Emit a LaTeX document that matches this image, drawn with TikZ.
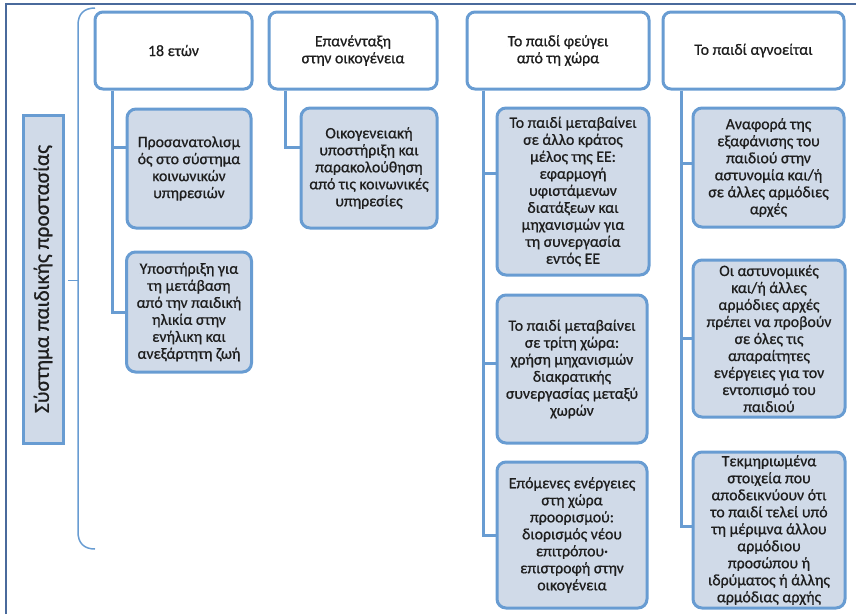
\documentclass[tikz,border=0pt]{standalone}
\usepackage{fontspec}
\setmainfont{Carlito}[FakeBold=0.8]
\definecolor{frame}{RGB}{74,106,156}
\definecolor{bord}{RGB}{104,156,210}
\definecolor{cfill}{RGB}{208,218,232}
\definecolor{txt}{RGB}{30,30,30}
\tikzset{
  hdr/.style={draw=bord, line width=3pt, fill=white, rounded corners=8pt, align=center, text=txt, font=\fontsize{15.8}{17}\selectfont, inner sep=2pt},
  child/.style={draw=bord, line width=3pt, fill=cfill, rounded corners=9pt, align=center, text=txt, font=\fontsize{15.8}{17}\selectfont, inner sep=2pt},
  conn/.style={draw=bord, line width=3pt},
  lbl/.style={draw=bord, line width=3pt, fill=cfill, rotate=90, text=txt, font=\fontsize{21.5}{23}\selectfont, inner sep=0pt},
}
\begin{document}
\begin{tikzpicture}[x=1pt,y=-1pt]
\useasboundingbox (0,0) rectangle (856,614);
% frame
\draw[frame, line width=2.5pt] (6,614) -- (6,4) -- (856,4);
% brace
\draw[bord, line width=1.5pt] (95,8) .. controls (84,8) and (78,14) .. (78,25) -- (78,532) .. controls (78,543) and (84,549) .. (95,549);
\draw[bord, line width=1pt] (68,280) -- (78,280);
% label
\node[lbl, minimum width=328pt, minimum height=40pt] (lab) at (43,279) {Σύστημα παιδικής προστασίας};
% headers
\node[hdr, minimum width=157pt, minimum height=77pt] (h1) at (173.5,50.5) {18 ετών};
\node[hdr, minimum width=168pt, minimum height=77pt] (h2) at (353,50.5) {Επανένταξη\\στην οικογένεια};
\node[hdr, minimum width=182pt, minimum height=77pt] (h3) at (558,50.5) {Το παιδί φεύγει\\από τη χώρα};
\node[hdr, minimum width=181pt, minimum height=77pt] (h4) at (753.5,50.5) {Το παιδί αγνοείται};
% axis coordinates
\coordinate (v1) at (112,0);
\coordinate (v2) at (285,0);
\coordinate (v3) at (483,0);
\coordinate (v4) at (681,0);
% connector targets
\coordinate (k11) at (127,147);
\coordinate (k12) at (126,312);
\coordinate (k21) at (301,147);
\coordinate (k31) at (497,173);
\coordinate (k32) at (497,363);
\coordinate (k33) at (497,535);
\coordinate (k41) at (693,163);
\coordinate (k42) at (693,338.5);
\coordinate (k43) at (693,526);
\draw[conn] (h1.south -| v1) |- (k11);
\draw[conn] (h1.south -| v1) |- (k12);
\draw[conn] (h2.south -| v2) |- (k21);
\draw[conn] (h3.south -| v3) |- (k31);
\draw[conn] (h3.south -| v3) |- (k32);
\draw[conn] (h3.south -| v3) |- (k33);
\draw[conn] (h4.south -| v4) |- (k41);
\draw[conn] (h4.south -| v4) |- (k42);
\draw[conn] (h4.south -| v4) |- (k43);
% children
\node[child, minimum width=124pt, minimum height=119pt] (c11) at (189,168.5) {Προσανατολισμ\\ός στο σύστημα\\κοινωνικών\\υπηρεσιών};
\node[child, minimum width=125pt, minimum height=120pt] (c12) at (189,312) {Υποστήριξη για\\τη μετάβαση\\από την παιδική\\ηλικία στην\\ενήλικη και\\ανεξάρτητη ζωή};
\node[child, minimum width=136pt, minimum height=120pt] (c21) at (369,168) {Οικογενειακή\\υποστήριξη και\\παρακολούθηση\\από τις κοινωνικές\\υπηρεσίες};
\node[child, minimum width=152pt, minimum height=167pt] (c31) at (573,191.5) {Το παιδί μεταβαίνει\\σε άλλο κράτος\\μέλος της ΕΕ:\\εφαρμογή\\υφιστάμενων\\διατάξεων και\\μηχανισμών για\\τη συνεργασία\\εντός ΕΕ};
\node[child, minimum width=150pt, minimum height=148pt] (c32) at (572,369) {Το παιδί μεταβαίνει\\σε τρίτη χώρα:\\χρήση μηχανισμών\\διακρατικής\\συνεργασίας μεταξύ\\χωρών};
\node[child, minimum width=150pt, minimum height=146pt] (c33) at (572,535) {Επόμενες ενέργειες\\στη χώρα\\προορισμού:\\διορισμός νέου\\επιτρόπου·\\επιστροφή στην\\οικογένεια};
\node[child, minimum width=151pt, minimum height=119pt] (c41) at (768.5,167.5) {Αναφορά της\\εξαφάνισης του\\παιδιού στην\\αστυνομία και/ή\\σε άλλες αρμόδιες\\αρχές};
\node[child, minimum width=152pt, minimum height=157pt] (c42) at (769,338.5) {Οι αστυνομικές\\και/ή άλλες\\αρμόδιες αρχές\\πρέπει να προβούν\\σε όλες τις\\απαραίτητες\\ενέργειες για τον\\εντοπισμό του\\παιδιού};
\node[child, minimum width=152pt, minimum height=156pt] (c43) at (769,530) {Τεκμηριωμένα\\στοιχεία που\\αποδεικνύουν ότι\\το παιδί τελεί υπό\\τη μέριμνα άλλου\\αρμόδιου\\προσώπου ή\\ιδρύματος ή άλλης\\αρμόδιας αρχής};
\end{tikzpicture}
\end{document}
